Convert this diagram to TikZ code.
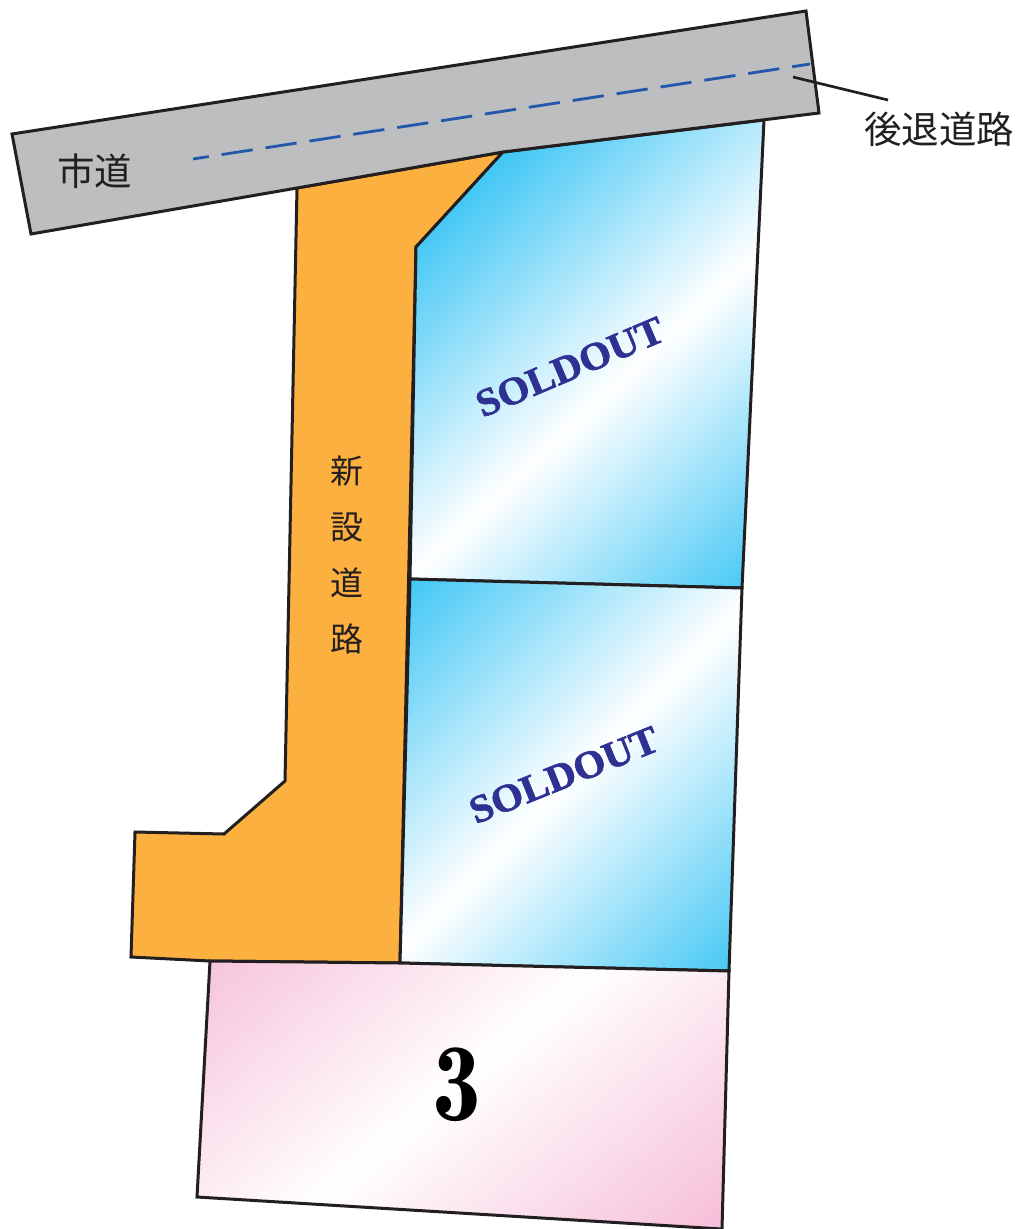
\documentclass[tikz,border=0pt]{standalone}
\usepackage{fontspec}
\newfontfamily\cjk{Noto Sans CJK JP}
\newfontfamily\soldfont[FakeBold=1.6,FakeStretch=1.05]{Liberation Serif Bold}
\definecolor{inkc}{HTML}{231F20}
\definecolor{roadc}{HTML}{BCBEC0}
\definecolor{orangec}{HTML}{FBB040}
\definecolor{skyc}{HTML}{45C8F5}
\definecolor{pinkc}{HTML}{F6BFD9}
\definecolor{dashc}{HTML}{2257AC}
\definecolor{soldc}{HTML}{2E3192}
\tikzset{
  outline/.style={draw=inkc,line width=3pt,line join=miter},
  jp/.style={text=inkc,inner sep=0pt,font=\cjk\fontsize{#1}{#1}\selectfont},
  sold/.style={text=soldc,inner sep=0pt,font=\soldfont\fontsize{39}{39}\selectfont},
}
\newcommand{\gradlot}[6]{% path, cx, cy, angle, half-height, colour
  \fill[#6] #1;
  \begin{scope}
    \clip #1;
    \begin{scope}[transform canvas={shift={(#2,#3)},rotate=#4}]
      \shade[top color=#6,bottom color=#6,middle color=white] (-900,-#5) rectangle (900,#5);
    \end{scope}
  \end{scope}
  \draw[outline] #1;
}
\begin{document}
\begin{tikzpicture}[x=1pt,y=-1pt]
\useasboundingbox (0,0) rectangle (1018,1229);
% new road
\draw[outline,fill=orangec] (297,188) -- (503,152) -- (416,247) -- (400,963) -- (210,961) -- (131,957) -- (135,832) -- (224,834) -- (285,781) -- cycle;
% lots
\gradlot{(503,152) -- (764,120) -- (742,588) -- (410,579) -- (416,247) -- cycle}{600}{400}{43}{240}{skyc}
\gradlot{(410,579) -- (742,588) -- (729,971) -- (400,963) -- cycle}{570}{780}{45}{250}{skyc}
\gradlot{(210,961) -- (400,963) -- (729,971) -- (722,1229) -- (197,1197) -- cycle}{450}{1090}{40}{275}{pinkc}
% city road
\draw[outline,fill=roadc] (12,134) -- (806,11) -- (819,113) -- (503,152) -- (297,188) -- (31,234) -- cycle;
\coordinate (dashA) at (193,159);
\coordinate (dashB) at (810,64);
\draw[dashc,line width=2.8pt,dash pattern=on 31.4pt off 13pt,dash phase=15.4pt] (dashA) -- (dashB);
% labels
\node[jp=37.5] (city) at (94.5,171) {市道};
\node[jp=37.5] (setback) at (939,129) {後退道路};
\coordinate (leadA) at (793,77);
\coordinate (leadB) at (888,100);
\draw[inkc,line width=2.7pt] (leadA) -- (leadB);
\node[jp=33] (n1) at (347,471) {新};
\node[jp=33] (n2) at (347,527) {設};
\node[jp=33] (n3) at (347,583) {道};
\node[jp=33] (n4) at (347,639) {路};
\node[sold,rotate=23] (s1) at (570,367) {SOLDOUT};
\node[sold,rotate=22] (s2) at (564,775) {SOLDOUT};
\node[text=black,inner sep=0pt,xscale=0.88,font=\fontseries{b}\fontsize{111}{111}\selectfont] (three) at (457,1085) {3};
\end{tikzpicture}
\end{document}
